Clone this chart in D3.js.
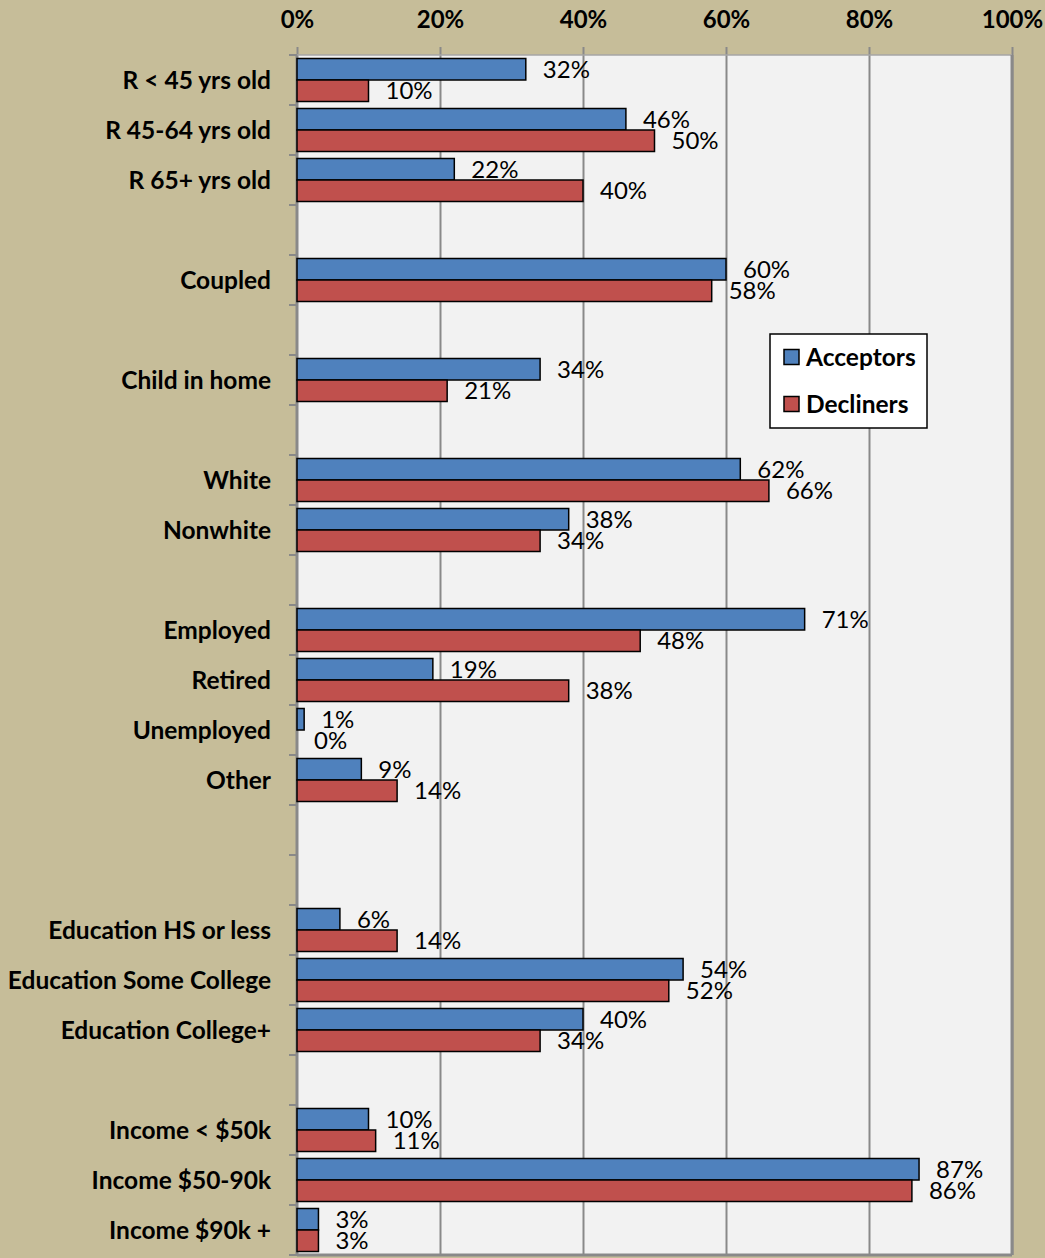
<!DOCTYPE html>
<html>
<head>
<meta charset="utf-8">
<script src="https://cdn.jsdelivr.net/npm/d3@7/dist/d3.min.js"></script>
<style>
  html, body { margin: 0; padding: 0; background: #c6bd99; }
  svg { display: block; }
  text { font-family: Lato, "Open Sans", sans-serif; }
</style>
</head>
<body>
<svg id="chart" width="1045" height="1258"></svg>
<script>
// Row labels, top to bottom; null marks an empty spacer row between groups
const categories = [
  "R < 45 yrs old", "R 45-64 yrs old", "R 65+ yrs old", null,
  "Coupled", null,
  "Child in home", null,
  "White", "Nonwhite", null,
  "Employed", "Retired", "Unemployed", "Other", null, null,
  "Education HS or less", "Education Some College", "Education College+", null,
  "Income < $50k", "Income $50-90k", "Income $90k +"
];
// Share of each group (percent)
const acceptors = [32, 46, 22, null, 60, null, 34, null, 62, 38, null, 71, 19, 1, 9, null, null, 6, 54, 40, null, 10, 87, 3];
const decliners = [10, 50, 40, null, 58, null, 21, null, 66, 34, null, 48, 38, 0, 14, null, null, 14, 52, 34, null, 11, 86, 3];
const seriesNames = ["Acceptors", "Decliners"];
const xTicks = [0, 20, 40, 60, 80, 100];

const colors = { Acceptors: "#4f81bd", Decliners: "#c0504d" };

const svg = d3.select("#chart");
const margin = { top: 55, left: 297, right: 33, bottom: 3 };
const W = 1045, H = 1258;
const plotW = W - margin.left - margin.right;
const plotH = H - margin.top - margin.bottom;

const rows = categories.map((c, i) => ({ i, name: c, a: acceptors[i], d: decliners[i] }));

const x = d3.scaleLinear().domain([0, 100]).range([0, plotW]);
const y = d3.scaleBand().domain(rows.map(r => r.i)).range([0, plotH]).paddingInner(0.14).paddingOuter(0.07);
const ySeries = d3.scaleBand().domain(seriesNames).range([0, y.bandwidth()]);
const yBand = d3.scaleBand().domain(rows.map(r => r.i)).range([0, plotH]);

const g = svg.append("g").attr("transform", `translate(${margin.left},${margin.top})`);

// plot area
g.append("rect").attr("x", 0).attr("y", 0).attr("width", plotW).attr("height", plotH)
  .attr("fill", "#f2f2f2");

// vertical gridlines with outward ticks at the top
const xAxis = d3.axisTop(x).tickValues(xTicks).tickSize(8).tickFormat(d => d + "%");
const xg = g.append("g").call(xAxis);
xg.select(".domain").remove();
xg.selectAll(".tick line").attr("stroke", "#898989").attr("stroke-width", 2)
  .attr("y1", plotH);
xg.selectAll(".tick text").attr("fill", "#000").attr("font-size", 24).attr("font-weight", 700)
  .attr("y", -35).attr("dy", "0.35em");

// plot border (right and bottom), top edge
g.append("line").attr("x1", 0).attr("x2", plotW).attr("y1", 0).attr("y2", 0)
  .attr("stroke", "#a6a6a6").attr("stroke-width", 1.5);
g.append("line").attr("x1", plotW).attr("x2", plotW).attr("y1", 0).attr("y2", plotH)
  .attr("stroke", "#898989").attr("stroke-width", 3);
g.append("line").attr("x1", 0).attr("x2", plotW).attr("y1", plotH).attr("y2", plotH)
  .attr("stroke", "#898989").attr("stroke-width", 3);

// category axis on the left: line plus ticks at row boundaries
const bounds = d3.range(categories.length + 1).map(k => k * yBand.step());
g.append("line").attr("x1", -0.5).attr("x2", -0.5).attr("y1", 0).attr("y2", plotH)
  .attr("stroke", "#898989").attr("stroke-width", 2);
g.selectAll(".ytick").data(bounds).join("line").attr("class", "ytick")
  .attr("x1", -8).attr("x2", 0).attr("y1", d => d).attr("y2", d => d)
  .attr("stroke", "#898989").attr("stroke-width", 2);

g.selectAll(".cat").data(rows.filter(r => r.name)).join("text").attr("class", "cat")
  .attr("x", -26).attr("y", r => yBand(r.i) + yBand.bandwidth() / 2).attr("dy", "0.35em")
  .attr("text-anchor", "end").attr("font-size", 24.5).attr("font-weight", 700).attr("fill", "#000")
  .text(r => r.name);

// bars
const barData = [];
rows.forEach(r => {
  if (r.a !== null) barData.push({ i: r.i, s: "Acceptors", v: r.a });
  if (r.d !== null) barData.push({ i: r.i, s: "Decliners", v: r.d });
});

g.selectAll(".bar").data(barData).join("rect").attr("class", "bar")
  .attr("x", 0)
  .attr("y", d => y(d.i) + ySeries(d.s))
  .attr("width", d => x(d.v))
  .attr("height", ySeries.bandwidth())
  .attr("fill", d => colors[d.s])
  .attr("stroke", "#000").attr("stroke-width", 1.5);

g.selectAll(".val").data(barData).join("text").attr("class", "val")
  .attr("x", d => x(d.v) + 17)
  .attr("y", d => y(d.i) + ySeries(d.s) + ySeries.bandwidth() / 2)
  .attr("dy", "0.36em")
  .attr("font-size", 24).attr("fill", "#000")
  .text(d => d.v + "%");

// legend
const lg = svg.append("g").attr("transform", "translate(770,334)");
lg.append("rect").attr("width", 157).attr("height", 94).attr("fill", "#fff")
  .attr("stroke", "#000").attr("stroke-width", 1.5);
seriesNames.forEach((s, k) => {
  const cy = 23 + k * 47;
  lg.append("rect").attr("x", 14).attr("y", cy - 7.5).attr("width", 15).attr("height", 15)
    .attr("fill", colors[s]).attr("stroke", "#000").attr("stroke-width", 1.5);
  lg.append("text").attr("x", 36).attr("y", cy).attr("dy", "0.35em")
    .attr("font-size", 24.5).attr("font-weight", 700).attr("fill", "#000").text(s);
});
</script>
</body>
</html>
